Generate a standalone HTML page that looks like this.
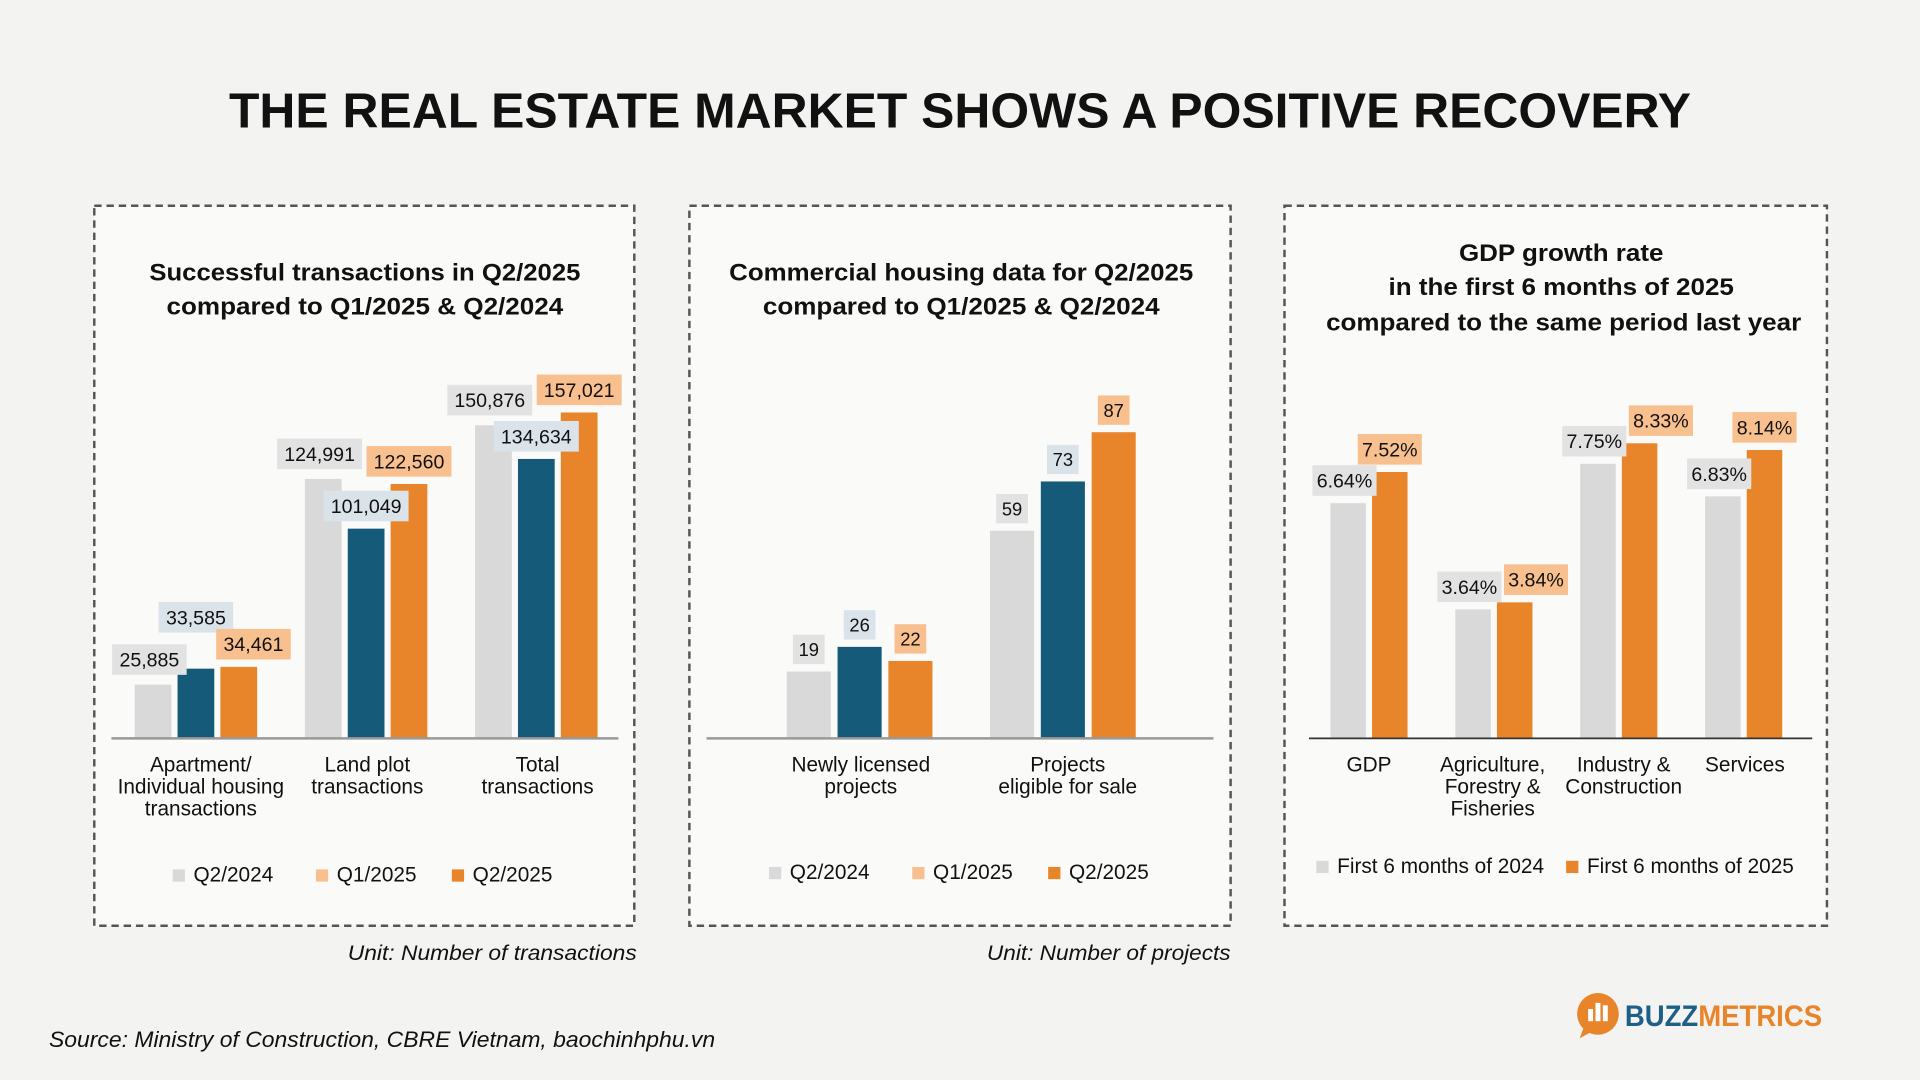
<!DOCTYPE html>
<html><head><meta charset="utf-8">
<style>
html,body{margin:0;padding:0;background:#f3f3f1;}
svg{display:block;}
text{font-family:"Liberation Sans","DejaVu Sans",sans-serif;fill:#111;}
</style></head>
<body>
<svg id="root" width="1920" height="1080" viewBox="0 0 1568 882" xmlns="http://www.w3.org/2000/svg">
<rect x="0" y="0" width="1568" height="882" fill="#f3f3f1"/>
<text x="784" y="104" text-anchor="middle" font-size="40" font-weight="bold" textLength="1194" lengthAdjust="spacingAndGlyphs">THE REAL ESTATE MARKET SHOWS A POSITIVE RECOVERY</text>

<g>
<rect x="77" y="168" width="441" height="588" fill="#fafaf9" stroke="#555" stroke-width="2" stroke-dasharray="6,4"/>
<text x="298" y="229" text-anchor="middle" font-size="20" font-weight="bold" textLength="352" lengthAdjust="spacingAndGlyphs">Successful transactions in Q2/2025</text>
<text x="298" y="257" text-anchor="middle" font-size="20" font-weight="bold" textLength="324" lengthAdjust="spacingAndGlyphs">compared to Q1/2025 &amp; Q2/2024</text>
<g id="c1"></g>
</g>
<g>
<rect x="563" y="168" width="442" height="588" fill="#fafaf9" stroke="#555" stroke-width="2" stroke-dasharray="6,4"/>
<text x="785" y="229" text-anchor="middle" font-size="20" font-weight="bold" textLength="379" lengthAdjust="spacingAndGlyphs">Commercial housing data for Q2/2025</text>
<text x="785" y="257" text-anchor="middle" font-size="20" font-weight="bold" textLength="324" lengthAdjust="spacingAndGlyphs">compared to Q1/2025 &amp; Q2/2024</text>
<g id="c2"></g>
</g>
<g>
<rect x="1049" y="168" width="443" height="588" fill="#fafaf9" stroke="#555" stroke-width="2" stroke-dasharray="6,4"/>
<text x="1275" y="213" text-anchor="middle" font-size="20" font-weight="bold" textLength="167" lengthAdjust="spacingAndGlyphs">GDP growth rate</text>
<text x="1275" y="241" text-anchor="middle" font-size="20" font-weight="bold" textLength="282" lengthAdjust="spacingAndGlyphs">in the first 6 months of 2025</text>
<text x="1277" y="270" text-anchor="middle" font-size="20" font-weight="bold" textLength="388" lengthAdjust="spacingAndGlyphs">compared to the same period last year</text>
<g id="c3"></g>
</g>

<text x="520" y="784" text-anchor="end" font-size="17" font-style="italic" textLength="236" lengthAdjust="spacingAndGlyphs">Unit: Number of transactions</text>
<text x="1005" y="784" text-anchor="end" font-size="17" font-style="italic" textLength="199" lengthAdjust="spacingAndGlyphs">Unit: Number of projects</text>
<text x="40" y="855" font-size="18" font-style="italic" textLength="544" lengthAdjust="spacingAndGlyphs">Source: Ministry of Construction, CBRE Vietnam, baochinhphu.vn</text>

<g>
<circle cx="1305" cy="828" r="17" fill="#e8852a"/>
<path d="M1293 840 L1290 848 L1299 843 Z" fill="#e8852a"/>
<rect x="1297" y="824" width="4" height="10" fill="#fff"/>
<rect x="1303" y="819" width="4" height="15" fill="#fff"/>
<rect x="1309" y="821" width="4" height="13" fill="#fff"/>
<text x="1327" y="838" font-size="24" font-weight="bold" textLength="161" lengthAdjust="spacingAndGlyphs"><tspan fill="#1d5f86" style="fill:#1d5f86">BUZZ</tspan><tspan fill="#e8852a" style="fill:#e8852a">METRICS</tspan></text>
</g>
</svg>
<script>
// ---- Chart 1 data ----
const c1Categories = [["Apartment/","Individual housing","transactions"],["Land plot","transactions"],["Total","transactions"]];
const c1Series = ["Q2/2024","Q1/2025","Q2/2025"];
const c1Q2_2024 = [25885, 124991, 150876];
const c1Q1_2025 = [33585, 101049, 134634];
const c1Q2_2025 = [34461, 122560, 157021];
const c1Labels = [["25,885","124,991","150,876"],["33,585","101,049","134,634"],["34,461","122,560","157,021"]];
// ---- Chart 2 data ----
const c2Categories = [["Newly licensed","projects"],["Projects","eligible for sale"]];
const c2Series = ["Q2/2024","Q1/2025","Q2/2025"];
const c2Q2_2024 = [19, 59];
const c2Q1_2025 = [26, 73];
const c2Q2_2025 = [22, 87];
// ---- Chart 3 data ----
const c3Categories = [["GDP"],["Agriculture,","Forestry &","Fisheries"],["Industry &","Construction"],["Services"]];
const c3Series = ["First 6 months of 2024","First 6 months of 2025"];
const c3H1_2024 = [6.64, 3.64, 7.75, 6.83];
const c3H1_2025 = [7.52, 3.84, 8.33, 8.14];

const NS = "http://www.w3.org/2000/svg";
function mk(tag, attrs, parent){
  const e = document.createElementNS(NS, tag);
  for (const k in attrs) e.setAttribute(k, attrs[k]);
  parent.appendChild(e);
  return e;
}
const GRAY="#d9d9d9", BLUE="#155a78", ORANGE="#e8852a";
const LGRAY="#e2e2e2", LBLUE="#dbe3ea", LORANGE="#f9c08f";

function labelW(txt, fs){ return txt.length*fs*0.53 + 10; }
function label(g, cx, bottom, txt, bg, fs, name){
  const w = labelW(txt, fs), h = fs+9;
  const r = mk("rect", {x:cx-w/2, y:bottom-h, width:w, height:h, fill:bg}, g);
  
  
  const t = mk("text", {x:cx, y:bottom-h/2+fs*0.36, "text-anchor":"middle", "font-size":fs}, g);
  
  
  t.textContent = txt;
}
function legend(g, items, colors, xs, y, fs){
  items.forEach((s,i)=>{
    const r = mk("rect", {x:xs[i], y:y-10, width:10, height:10, fill:colors[i]}, g);
    
    
    const t = mk("text", {x:xs[i]+17, y:y, "font-size":fs}, g);
    
    
    t.textContent = s;
  });
}
function catLabels(g, cats, xFn, y0, lh, fs){
  cats.forEach((lines,i)=>{
    lines.forEach((ln,j)=>{
      const t = mk("text", {x:xFn(i), y:y0+j*lh, "text-anchor":"middle", "font-size":fs}, g);
      
      
      t.textContent = ln;
    });
  });
}

// ---------- Chart 1 ----------
(function(){
  const g = document.getElementById("c1");
  const base = 603, yMax = 177000, plotH = 300;
  const y = v => base - v/yMax*plotH;
  const cx = i => 160 + i*139;
  const bw = 30, step = 35;
  const series = [c1Q2_2024, c1Q1_2025, c1Q2_2025];
  const cols = [GRAY, BLUE, ORANGE], lcols = [LGRAY, LBLUE, LORANGE];
  series.forEach((arr,s)=>{
    arr.forEach((v,i)=>{
      const x = cx(i) + (s-1)*step - bw/2;
      const b = mk("rect", {x:x, y:y(v), width:bw, height:base-y(v), fill:cols[s]}, g);
      
      
    });
  });
  series.forEach((arr,s)=>{
    arr.forEach((v,i)=>{
      let bottom = y(v) - 6;
      let xc = cx(i)+(s-1)*step;
      if (s===0) xc -= 3;
      if (s===0) bottom = y(v) - 8;
      if (s===1 && i===0){
        const other = Math.min(y(series[0][i]), y(series[2][i]));
        bottom = Math.min(bottom, other - 28);
      }
      if (s===2 && i===0) xc += 12;
      label(g, xc, bottom, c1Labels[s][i], lcols[s], 16, 'value-label');
    });
  });
  const ax = mk("line", {x1:91, x2:505, y1:base, y2:base, stroke:"#999", "stroke-width":2}, g);
  
  
  catLabels(g, c1Categories, i=>[164,300,439][i], 630, 18, 17);
  legend(g, c1Series, [GRAY, LORANGE, ORANGE], [141, 258, 369], 720, 17);
})();

// ---------- Chart 2 ----------
(function(){
  const g = document.getElementById("c2");
  const base = 603, yMax = 100, plotH = 287.4;
  const y = v => base - v/yMax*plotH;
  const cx = i => 702 + i*166;
  const bw = 36, step = 41.5;
  const series = [c2Q2_2024, c2Q1_2025, c2Q2_2025];
  const cols = [GRAY, BLUE, ORANGE], lcols = [LGRAY, LBLUE, LORANGE];
  series.forEach((arr,s)=>{
    arr.forEach((v,i)=>{
      const x = cx(i) + (s-1)*step - bw/2;
      const b = mk("rect", {x:x, y:y(v), width:bw, height:base-y(v), fill:cols[s]}, g);
      
      
      label(g, x+bw/2, y(v)-6, String(v), lcols[s], 15, 'value-label');
    });
  });
  const ax = mk("line", {x1:577, x2:991, y1:base, y2:base, stroke:"#999", "stroke-width":2}, g);
  
  
  catLabels(g, c2Categories, i=>[703,872][i], 630, 18, 17);
  legend(g, c2Series, [GRAY, LORANGE, ORANGE], [628, 745, 856], 718, 17);
})();

// ---------- Chart 3 ----------
(function(){
  const g = document.getElementById("c3");
  const base = 603, yMax = 10, plotH = 289.3;
  const y = v => base - v/yMax*plotH;
  const cx = i => 1118 + i*102;
  const bw = 29, step = 34;
  const series = [c3H1_2024, c3H1_2025];
  const cols = [GRAY, ORANGE], lcols = [LGRAY, LORANGE];
  const fs = 16;
  series.forEach((arr,s)=>{
    arr.forEach((v,i)=>{
      const x = cx(i) + (s-0.5)*step - bw/2;
      const b = mk("rect", {x:x, y:y(v), width:bw, height:base-y(v), fill:cols[s]}, g);
      
      
    });
  });
  c3H1_2024.forEach((v,i)=>{
    const t0 = v.toFixed(2)+"%", t1 = c3H1_2025[i].toFixed(2)+"%";
    const x0 = cx(i) - step/2 - 3, x1 = cx(i) + step/2;
    const b0 = y(v)-6, b1 = y(c3H1_2025[i])-6;
    let xo = x1;
    // avoid overlap of the two label boxes
    if (Math.abs(b0-b1) < fs+9){
      const need = x0 + labelW(t0,fs)/2 + labelW(t1,fs)/2 + 2;
      if (xo < need) xo = need;
    }
    label(g, x0, b0, t0, LGRAY, fs, 'value-label');
    label(g, xo, b1, t1, LORANGE, fs, 'value-label');
  });
  const ax = mk("line", {x1:1069, x2:1480, y1:base, y2:base, stroke:"#333", "stroke-width":1.5}, g);
  
  
  catLabels(g, c3Categories, i=>[1118,1219,1326,1425][i], 630, 18, 17);
  legend(g, c3Series, [GRAY, ORANGE], [1075, 1279], 713, 17);
})();
</script>
</body></html>
